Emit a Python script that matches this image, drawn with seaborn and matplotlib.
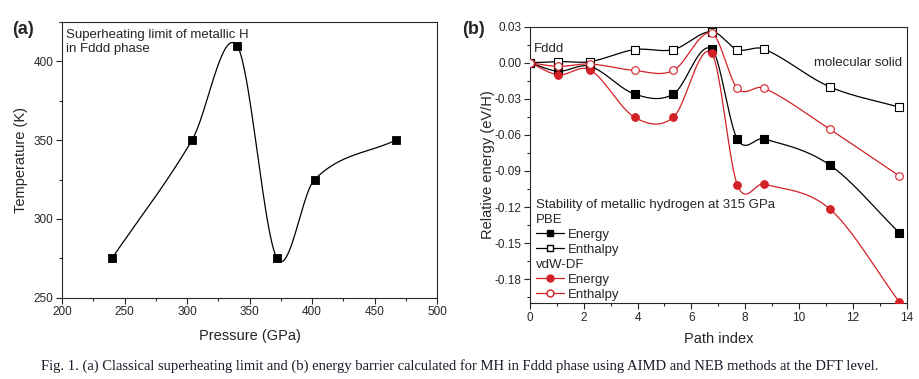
import numpy as np
import seaborn as sns
import matplotlib.pyplot as plt
from matplotlib.lines import Line2D
from matplotlib.ticker import MultipleLocator

# --- data ---
# (a) superheating limit
pressure = [240, 304, 340, 372, 402, 467]
temperature = [275, 350, 410, 275, 325, 350]

# (b) NEB path, relative energy (eV/H)
path_index = [0, 1.05, 2.24, 3.89, 5.33, 6.75, 7.71, 8.69, 11.14, 13.73]
pbe_energy = [0, -0.007, -0.003, -0.026, -0.026, 0.0115, -0.0636, -0.0633, -0.085, -0.1415]
pbe_enthalpy = [0, 0.001, 0.001, 0.011, 0.011, 0.026, 0.011, 0.0115, -0.020, -0.037]
vdw_energy = [0, -0.010, -0.006, -0.0453, -0.0453, 0.008, -0.1017, -0.101, -0.1216, -0.199]
vdw_enthalpy = [0, -0.003, -0.001, -0.0064, -0.0064, 0.0248, -0.0213, -0.021, -0.0553, -0.0942]

RED = '#d42027'


def smooth(x, y, n=40):
    # Catmull-Rom style Hermite curve through the points (only for drawing the line)
    x = np.asarray(x, float); y = np.asarray(y, float)
    t = np.empty_like(y)
    t[1:-1] = (y[2:] - y[:-2]) / (x[2:] - x[:-2])
    t[0] = (y[1] - y[0]) / (x[1] - x[0])
    t[-1] = (y[-1] - y[-2]) / (x[-1] - x[-2])
    xs_all, ys_all = [], []
    for i in range(len(x) - 1):
        h = x[i + 1] - x[i]
        s = np.linspace(0, 1, n)
        h00 = 2 * s**3 - 3 * s**2 + 1
        h10 = s**3 - 2 * s**2 + s
        h01 = -2 * s**3 + 3 * s**2
        h11 = s**3 - s**2
        xs_all.append(x[i] + s * h)
        ys_all.append(h00 * y[i] + h10 * h * t[i] + h01 * y[i + 1] + h11 * h * t[i + 1])
    return np.concatenate(xs_all), np.concatenate(ys_all)


sns.set_style('ticks')
plt.rcParams['font.family'] = ['Liberation Sans', 'DejaVu Sans']
plt.rcParams['axes.linewidth'] = 0.8
for k in ('xtick', 'ytick'):
    plt.rcParams[f'{k}.major.width'] = 0.8
    plt.rcParams[f'{k}.minor.width'] = 0.8
    plt.rcParams[f'{k}.major.size'] = 4
    plt.rcParams[f'{k}.minor.size'] = 2.5

fig = plt.figure(figsize=(9.2, 3.79), dpi=100)
ax1 = fig.add_axes([0.0674, 0.2145, 0.4076, 0.7275])
ax2 = fig.add_axes([0.576, 0.2, 0.4095, 0.7295])

# --- (a) ---
xs, ys = smooth(pressure, temperature)
ax1.plot(xs, ys, color='black', lw=0.9)
sns.scatterplot(x=pressure, y=temperature, ax=ax1, marker='s', color='black',
                s=28, edgecolor='black', linewidth=0.6, zorder=3)
ax1.set_xlim(200, 500)
ax1.set_ylim(250, 425)
ax1.xaxis.set_major_locator(MultipleLocator(50))
ax1.xaxis.set_minor_locator(MultipleLocator(25))
ax1.yaxis.set_major_locator(MultipleLocator(50))
ax1.yaxis.set_minor_locator(MultipleLocator(25))
ax1.set_xlabel('Pressure (GPa)', fontsize=10.5, labelpad=8)
ax1.set_ylabel('Temperature (K)', fontsize=10.5, labelpad=4)
ax1.text(0.01, 0.975, 'Superheating limit of metallic H\nin Fddd phase', transform=ax1.transAxes,
         fontsize=9.5, va='top', ha='left', linespacing=1.25)

# --- (b) ---
series = [
    (pbe_energy, 'black', 'black', 's'),
    (pbe_enthalpy, 'black', 'white', 's'),
    (vdw_energy, RED, RED, 'o'),
    (vdw_enthalpy, RED, 'white', 'o'),
]
for vals, col, face, mk in series:
    xs, ys = smooth(path_index, vals)
    ax2.plot(xs, ys, color=col, lw=0.9, zorder=2)
    sns.scatterplot(x=path_index, y=vals, ax=ax2, marker=mk, color=face, s=30,
                    edgecolor=col, linewidth=0.8, zorder=3)
ax2.set_xlim(0, 14)
ax2.set_ylim(-0.2, 0.03)
ax2.xaxis.set_major_locator(MultipleLocator(2))
ax2.xaxis.set_minor_locator(MultipleLocator(1))
ax2.yaxis.set_major_locator(MultipleLocator(0.03))
ax2.yaxis.set_minor_locator(MultipleLocator(0.015))
ax2.yaxis.set_major_formatter(plt.FuncFormatter(lambda v, p: f'{v:.2f}'))
ax2.set_xlabel('Path index', fontsize=10.5, labelpad=6)
ax2.set_ylabel('Relative energy (eV/H)', fontsize=10.5, labelpad=0)
ax2.text(0.15, 0.0115, 'Fddd', fontsize=9.5, ha='left', va='center')
ax2.text(13.85, -0.0005, 'molecular solid', fontsize=9.5, ha='right', va='center')

blank = Line2D([], [], linestyle='none')
handles = [
    blank,
    Line2D([], [], color='black', lw=0.9, marker='s', ms=5, mfc='black'),
    Line2D([], [], color='black', lw=0.9, marker='s', ms=5, mfc='white'),
    blank,
    Line2D([], [], color=RED, lw=0.9, marker='o', ms=5, mfc=RED, mec=RED),
    Line2D([], [], color=RED, lw=0.9, marker='o', ms=5, mfc='white', mec=RED),
]
labels = ['PBE', 'Energy', 'Enthalpy', 'vdW-DF', 'Energy', 'Enthalpy']
hl, hp = 2.1, 0.3
leg = ax2.legend(handles, labels, title='Stability of metallic hydrogen at 315 GPa',
                 loc='lower left', bbox_to_anchor=(0.009, 0.0), frameon=False,
                 fontsize=9.5, title_fontsize=9.5, handlelength=hl, handletextpad=hp,
                 labelspacing=0.2, borderpad=0.15, borderaxespad=0.05, alignment='left')
shift = (hl + hp) * 9.5 * fig.dpi / 72
for i in (0, 3):
    leg.get_texts()[i].set_x(-shift)

for ax in (ax1, ax2):
    ax.tick_params(which='both', direction='out', top=False, right=False, labelsize=8.5, pad=2)

fig.text(0.013, 0.921, '(a)', fontsize=13, fontweight='bold', ha='left', va='center')
fig.text(0.502, 0.923, '(b)', fontsize=13, fontweight='bold', ha='left', va='center')

fig.text(0.045, 0.035, 'Fig. 1. (a) Classical superheating limit and (b) energy barrier calculated '
         'for MH in Fddd phase using AIMD and NEB methods at the DFT level.',
         fontsize=10.5, family='Liberation Serif', color='#1a1a2a', ha='left', va='center')

fig.savefig('out.png', dpi=100)
